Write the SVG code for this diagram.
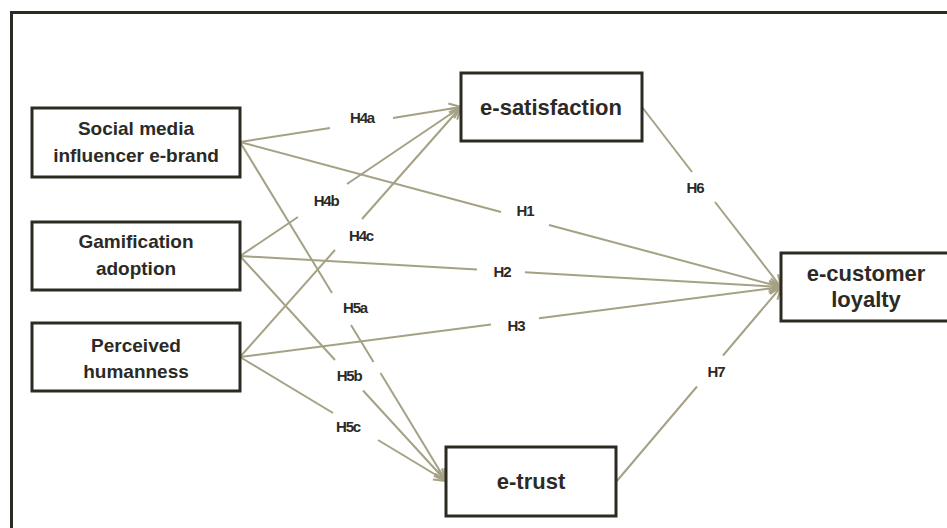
<svg xmlns="http://www.w3.org/2000/svg" width="947" height="528" viewBox="0 0 947 528">
<defs>
<style>
.box{fill:#fff;stroke:#2d2a22;stroke-width:3}
.nt{font-family:"Liberation Sans",Arial,sans-serif;font-weight:bold;fill:#2b2a26;text-anchor:middle}
.s{font-size:19px}
.b{font-size:22px}
.c{fill:none;stroke:#a5a185;stroke-width:2}
.lb{font-family:"Liberation Sans",Arial,sans-serif;font-weight:bold;font-size:15px;letter-spacing:-1.2px;fill:#2b2a26;text-anchor:middle}
</style>
<marker id="ah" markerUnits="userSpaceOnUse" markerWidth="16" markerHeight="14" refX="13" refY="7" orient="auto">
<path d="M1,1.5 L13,7 L1,12.5" fill="none" stroke="#a5a185" stroke-width="2"/>
</marker>
</defs>
<rect width="947" height="528" fill="#fff"/>
<path d="M11.5,528 L11.5,12.5 L947,12.5" fill="none" stroke="#2d2a22" stroke-width="3"/>
<g id="connectors">
<path class="c" d="M240,142 L330,128"/><path class="c" d="M393,118 L461,107" marker-end="url(#ah)"/>
<path class="c" d="M240,256 L298,217"/><path class="c" d="M347,184 L461,107" marker-end="url(#ah)"/>
<path class="c" d="M240,357 L335,250"/><path class="c" d="M362,219 L461,107" marker-end="url(#ah)"/>
<path class="c" d="M240,142 L501,212"/><path class="c" d="M549,225 L781,287" marker-end="url(#ah)"/>
<path class="c" d="M240,256 L477,269.6"/><path class="c" d="M525,272.3 L781,287" marker-end="url(#ah)"/>
<path class="c" d="M240,357 L491,324.5"/><path class="c" d="M539,318.3 L781,287" marker-end="url(#ah)"/>
<path class="c" d="M240,142 L332,293"/><path class="c" d="M351,325 L373.5,362"/><path class="c" d="M380.5,373 L446,481" marker-end="url(#ah)"/>
<path class="c" d="M240,256 L335,360"/><path class="c" d="M363,390.5 L446,481" marker-end="url(#ah)"/>
<path class="c" d="M240,357 L333,413"/><path class="c" d="M378,440 L446,481" marker-end="url(#ah)"/>
<path class="c" d="M642,107 L692,172"/><path class="c" d="M715,202 L781,287" marker-end="url(#ah)"/>
<path class="c" d="M616,482 L697,386.5"/><path class="c" d="M723,355.5 L781,287" marker-end="url(#ah)"/>
<text class="lb" x="362" y="123">H4a</text>
<text class="lb" x="326" y="206">H4b</text>
<text class="lb" x="361" y="241">H4c</text>
<text class="lb" x="525" y="216">H1</text>
<text class="lb" x="502" y="277">H2</text>
<text class="lb" x="516" y="331">H3</text>
<text class="lb" x="355" y="313">H5a</text>
<text class="lb" x="349" y="381">H5b</text>
<text class="lb" x="348" y="432">H5c</text>
<text class="lb" x="695" y="193">H6</text>
<text class="lb" x="716" y="377">H7</text>
</g>
<g id="social-media">
<rect class="box" x="32" y="108" width="208" height="69"/>
<text class="nt s" x="136" y="135">Social media</text>
<text class="nt s" x="136" y="162">influencer e-brand</text>
</g>
<g id="gamification">
<rect class="box" x="32" y="222" width="208" height="68"/>
<text class="nt s" x="136" y="248">Gamification</text>
<text class="nt s" x="136" y="275">adoption</text>
</g>
<g id="perceived">
<rect class="box" x="32" y="323" width="208" height="68"/>
<text class="nt s" x="136" y="352">Perceived</text>
<text class="nt s" x="136" y="378">humanness</text>
</g>
<g id="e-satisfaction">
<rect class="box" x="461" y="73" width="181" height="68"/>
<text class="nt b" x="551" y="115">e-satisfaction</text>
</g>
<g id="e-customer-loyalty">
<rect class="box" x="781" y="253" width="180" height="68"/>
<text class="nt b" x="866" y="281">e-customer</text>
<text class="nt b" x="866" y="307">loyalty</text>
</g>
<g id="e-trust">
<rect class="box" x="446" y="447" width="170" height="69"/>
<text class="nt b" x="531" y="489">e-trust</text>
</g>
</svg>
